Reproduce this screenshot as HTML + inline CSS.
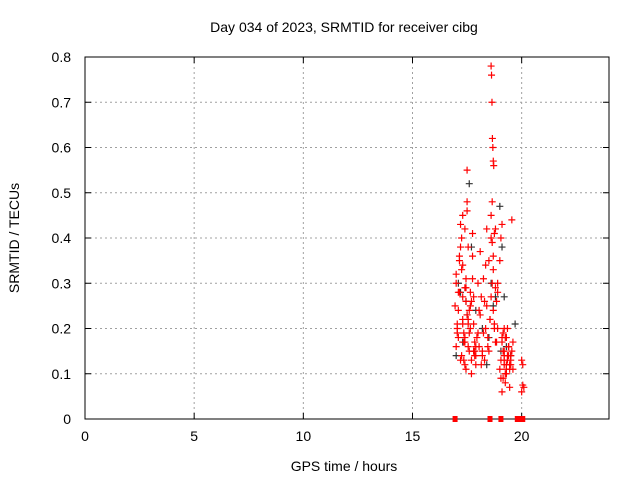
<!DOCTYPE html>
<html><head><meta charset="utf-8"><style>
body{margin:0;background:#fff}
svg text{font-family:"Liberation Sans",sans-serif;font-size:14px;fill:#000}
</style></head><body>
<svg id="chart" width="640" height="480" xmlns="http://www.w3.org/2000/svg">
<rect width="640" height="480" fill="#fff"/>
<g id="grid"></g><g id="axes"></g><g id="marks"></g>
<text x="344" y="32" text-anchor="middle">Day 034 of 2023, SRMTID for receiver cibg</text>
<text x="344" y="471" text-anchor="middle">GPS time / hours</text>
<text transform="translate(19,238) rotate(-90)" text-anchor="middle">SRMTID / TECUs</text>
</svg>
<script>
const xTicks=[0,5,10,15,20];
const yTicks=[0,0.1,0.2,0.3,0.4,0.5,0.6,0.7,0.8];
const yTickLabels=["0","0.1","0.2","0.3","0.4","0.5","0.6","0.7","0.8"];
const redTimes=[16.95,17.0,17.05,17.1,17.15,17.2,17.25,17.3,17.35,17.4,17.45,17.5,17.55,17.6,17.65,17.7,17.75,17.8,17.85,17.9,
17.0,17.05,17.1,17.15,17.2,17.25,17.3,17.35,17.4,17.45,17.5,17.55,17.6,17.65,17.7,17.75,17.8,17.85,17.9,17.95,
17.0,17.1,17.2,17.3,17.4,17.5,17.6,17.7,17.8,17.9,17.05,17.15,17.25,17.35,17.45,17.55,17.65,17.75,17.85,
17.3,17.4,17.5,17.35,17.45,17.55,17.3,17.4,
18.0,18.05,18.1,18.15,18.2,18.25,18.3,18.35,18.4,18.45,18.5,18.55,18.6,18.65,18.7,18.75,18.8,18.85,18.9,
18.0,18.1,18.2,18.3,18.4,18.5,18.6,18.7,18.8,18.9,18.05,18.15,18.25,18.35,18.45,18.55,18.65,18.75,18.85,
18.6,18.62,18.64,18.66,18.68,18.7,18.72,18.65,18.6,18.75,18.8,18.7,18.9,
19.0,19.05,19.1,19.15,19.2,19.25,19.3,19.35,19.4,19.45,19.5,19.55,19.6,
19.0,19.05,19.1,19.15,19.2,19.25,19.3,19.35,19.4,19.45,19.5,19.55,19.6,
19.1,19.2,19.3,19.4,19.5,19.15,19.25,19.35,19.45,19.2,19.3,19.05,19.1,19.2,19.4,
20.0,20.05,20.1,20.05,20.0];
const redValues=[0.25,0.32,0.21,0.18,0.36,0.43,0.14,0.27,0.19,0.29,0.11,0.23,0.16,0.24,0.2,0.13,0.31,0.15,0.17,0.14,
0.3,0.2,0.28,0.35,0.38,0.33,0.45,0.17,0.12,0.26,0.48,0.22,0.19,0.28,0.26,0.41,0.21,0.15,0.16,0.18,
0.16,0.24,0.13,0.22,0.18,0.55,0.15,0.1,0.27,0.12,0.19,0.28,0.4,0.17,0.31,0.21,0.25,0.36,0.14,
0.21,0.17,0.46,0.13,0.29,0.38,0.34,0.42,
0.19,0.16,0.23,0.27,0.14,0.31,0.13,0.2,0.25,0.18,0.15,0.22,0.27,0.3,0.24,0.21,0.29,0.17,0.2,
0.3,0.37,0.15,0.26,0.42,0.35,0.4,0.33,0.17,0.28,0.24,0.12,0.19,0.34,0.16,0.22,0.39,0.2,0.26,
0.78,0.76,0.7,0.62,0.6,0.57,0.56,0.48,0.45,0.41,0.42,0.36,0.3,
0.11,0.13,0.17,0.15,0.12,0.1,0.18,0.14,0.16,0.12,0.13,0.15,0.11,
0.35,0.4,0.43,0.19,0.14,0.08,0.12,0.2,0.16,0.11,0.14,0.44,0.17,0.18,0.13,
0.1,0.16,0.12,0.09,0.18,0.13,0.07,0.15,0.11,0.09,0.06,0.2,0.14,0.13,0.12,
0.07,0.075,0.06,0.05,0.08];
const blackTimes=[17.0,17.1,17.2,17.3,17.45,17.6,17.8,17.9,18.2,18.4,18.6,18.7,18.8,19.0,19.1,19.2,19.3,19.5,19.7,17.7,17.5,18.5,19.05];
const blackValues=[0.14,0.3,0.28,0.17,0.26,0.52,0.15,0.24,0.2,0.12,0.3,0.25,0.27,0.47,0.38,0.27,0.16,0.14,0.21,0.38,0.23,0.18,0.15];
const zeroTimes=[16.95,18.55,19.05,19.8,19.9,20.0,20.05];
const zeroValues=[0,0,0,0,0,0,0];

const L=85,R=609,T=57,B=419;
const X=t=>L+t*(R-L)/24, Y=v=>B-v*(B-T)/0.8;
const NS="http://www.w3.org/2000/svg";
function mk(tag,attrs,parent){const e=document.createElementNS(NS,tag);for(const k in attrs)e.setAttribute(k,attrs[k]);parent.appendChild(e);return e;}
const grid=document.getElementById('grid'),axes=document.getElementById('axes'),marks=document.getElementById('marks');
xTicks.forEach(t=>{
  if(t>0){const g=mk('line',{x1:X(t),x2:X(t),y1:T,y2:B,stroke:'#a0a0a0','stroke-dasharray':'2,3'},grid);
  
  }
  mk('line',{x1:X(t),x2:X(t),y1:B,y2:B-6,stroke:'#000'},axes);
  mk('line',{x1:X(t),x2:X(t),y1:T,y2:T+6,stroke:'#000'},axes);
  const tx=mk('text',{x:X(t),y:B+22,'text-anchor':'middle'},axes);tx.textContent=t;
  
  
});
yTicks.forEach((v,i)=>{
  if(v>0&&v<0.8){const g=mk('line',{x1:L,x2:R,y1:Y(v),y2:Y(v),stroke:'#a0a0a0','stroke-dasharray':'2,3'},grid);
  
  }
  mk('line',{x1:L,x2:L+6,y1:Y(v),y2:Y(v),stroke:'#000'},axes);
  mk('line',{x1:R,x2:R-6,y1:Y(v),y2:Y(v),stroke:'#000'},axes);
  const tx=mk('text',{x:L-14,y:Y(v)+5,'text-anchor':'end'},axes);tx.textContent=yTickLabels[i];
  
  
});
const fr=mk('rect',{x:L,y:T,width:R-L,height:B-T,fill:'none',stroke:'#000'},axes);


function cross(t,v,c,name){const g=mk('path',{d:`M${X(t)-3.5},${Y(v)}h7M${X(t)},${Y(v)-3.5}v7`,stroke:c,'stroke-width':1.2,fill:'none'},marks);
  
  }
blackTimes.forEach((t,i)=>cross(t,blackValues[i],'#333','black-point'));
redTimes.forEach((t,i)=>cross(t,redValues[i],'#f00','red-point'));
zeroTimes.forEach((t,i)=>{const r=mk('rect',{x:X(t)-2.5,y:Y(zeroValues[i])-3,width:5,height:6,fill:'#f00'},marks);
  
  });
</script>
</body></html>
